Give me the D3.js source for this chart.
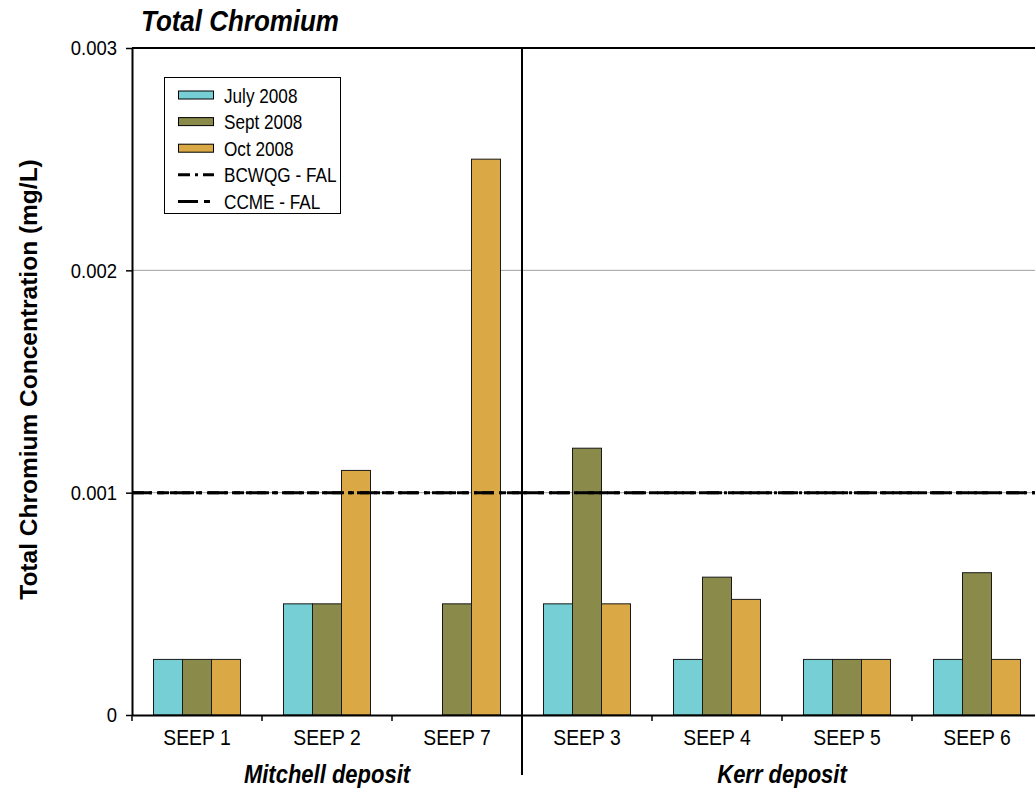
<!DOCTYPE html>
<html>
<head>
<meta charset="utf-8">
<script src="https://cdn.jsdelivr.net/npm/d3@7"></script>
<style>
  html, body { margin: 0; padding: 0; background: #ffffff; }
  svg { display: block; font-family: "Liberation Sans", Arial, sans-serif; }
</style>
</head>
<body>
<svg id="chart" width="1035" height="790"></svg>
<script>
// Sampling sites, grouped by deposit
const categories = ["SEEP 1", "SEEP 2", "SEEP 7", "SEEP 3", "SEEP 4", "SEEP 5", "SEEP 6"];
const depositNames = ["Mitchell deposit", "Kerr deposit"];
const depositSizes = [3, 4];

// Total chromium (mg/L) per sampling event; null = not sampled
const seriesNames = ["July 2008", "Sept 2008", "Oct 2008"];
const july2008 = [0.00025, 0.0005, null, 0.0005, 0.00025, 0.00025, 0.00025];
const sept2008 = [0.00025, 0.0005, 0.0005, 0.0012, 0.00062, 0.00025, 0.00064];
const oct2008  = [0.00025, 0.0011, 0.0025, 0.0005, 0.00052, 0.00025, 0.00025];
const seriesColors = ["#75cfd4", "#8a8a4a", "#daa845"];

// Water quality guidelines (freshwater aquatic life)
const guideNames = ["BCWQG - FAL", "CCME - FAL"];
const guideValues = [0.001, 0.001];
const guideDashes = ["12,5,3,5", "20,6,6,6"];

const yTicks = [0, 0.001, 0.002, 0.003];

const seriesValues = [july2008, sept2008, oct2008];
const SQ = 0.88; // horizontal squeeze applied to text

const svg = d3.select("#chart");
const plotLeft = 132, plotTop = 48, plotBottom = 715, plotRight = 1042;

const x = d3.scaleBand().domain(categories).range([plotLeft, plotRight]).padding(0);
const xs = d3.scaleBand().domain(seriesNames).range([0, x.bandwidth()])
  .paddingInner(0).paddingOuter(0.741);
const y = d3.scaleLinear().domain([0, 0.003]).range([plotBottom, plotTop]);

// gridlines
svg.append("g").selectAll("line")
  .data(yTicks.filter(d => d > 0 && d < 0.003))
  .join("line")
  .attr("x1", plotLeft).attr("x2", plotRight)
  .attr("y1", d => y(d)).attr("y2", d => y(d))
  .attr("stroke", "#a0a0a0").attr("stroke-width", 1);

// top frame line
svg.append("line")
  .attr("x1", plotLeft).attr("x2", plotRight)
  .attr("y1", y(0.003)).attr("y2", y(0.003))
  .attr("stroke", "#000").attr("stroke-width", 2);

// bars
const barData = [];
categories.forEach((c, i) => {
  seriesNames.forEach((s, j) => {
    const v = seriesValues[j][i];
    if (v != null) barData.push({ cat: c, series: s, value: v, color: seriesColors[j] });
  });
});
svg.append("g").selectAll("rect")
  .data(barData)
  .join("rect")
  .attr("x", d => x(d.cat) + xs(d.series))
  .attr("width", xs.bandwidth())
  .attr("y", d => y(d.value))
  .attr("height", d => y(0) - y(d.value))
  .attr("fill", d => d.color)
  .attr("stroke", "#1a1a1a")
  .attr("stroke-width", 1);

// guideline lines
svg.append("g").selectAll("line")
  .data(guideValues.map((v, i) => ({ v, dash: guideDashes[i] })))
  .join("line")
  .attr("x1", plotLeft).attr("x2", plotRight)
  .attr("y1", d => y(d.v)).attr("y2", d => y(d.v))
  .attr("stroke", "#000").attr("stroke-width", 3)
  .attr("stroke-dasharray", d => d.dash);

// y axis
const yAxis = svg.append("g")
  .attr("transform", `translate(${plotLeft},0)`)
  .call(d3.axisLeft(y).tickValues(yTicks)
    .tickFormat(d => d === 0 ? "0" : d3.format(".3f")(d))
    .tickSize(6).tickSizeOuter(0).tickPadding(9));
yAxis.select(".domain").attr("stroke", "#000").attr("stroke-width", 2);
yAxis.selectAll(".tick line").attr("stroke", "#000").attr("stroke-width", 1.5);
yAxis.selectAll(".tick text")
  .attr("font-size", 21).attr("font-family", "Liberation Sans, Arial, sans-serif")
  .attr("fill", "#000")
  .attr("x", -15 / SQ)
  .attr("transform", `scale(${SQ},1)`);

// x axis with category labels
const xAxis = svg.append("g")
  .attr("transform", `translate(0,${plotBottom})`)
  .call(d3.axisBottom(x).tickSize(0).tickSizeOuter(0).tickPadding(14));
xAxis.select(".domain").attr("stroke", "#000").attr("stroke-width", 2);
xAxis.selectAll(".tick text")
  .attr("font-size", 22).attr("font-family", "Liberation Sans, Arial, sans-serif")
  .attr("fill", "#000")
  .each(function () {
    const t = d3.select(this.parentNode).attr("transform");
    const tx = +t.match(/translate\(([-\d.]+)/)[1];
    d3.select(this.parentNode).attr("transform", null);
    d3.select(this).attr("x", tx / SQ).attr("transform", `scale(${SQ},1)`);
  });

// category boundary ticks
svg.append("g").selectAll("line")
  .data(categories)
  .join("line")
  .attr("x1", d => x(d)).attr("x2", d => x(d))
  .attr("y1", plotBottom).attr("y2", plotBottom + 6)
  .attr("stroke", "#000").attr("stroke-width", 1.5);

// deposit separators and labels
let start = 0;
depositNames.forEach((name, i) => {
  const a = x(categories[start]);
  const endCat = categories[start + depositSizes[i] - 1];
  const b = x(endCat) + x.bandwidth();
  svg.append("text")
    .attr("transform", `translate(${(a + b) / 2},783) scale(${SQ},1)`)
    .attr("text-anchor", "middle")
    .attr("font-size", 25).attr("font-weight", "bold").attr("font-style", "italic")
    .attr("fill", "#000")
    .text(name);
  if (i > 0) {
    svg.append("line")
      .attr("x1", a).attr("x2", a).attr("y1", plotTop).attr("y2", 775)
      .attr("stroke", "#000").attr("stroke-width", 2);
  }
  start += depositSizes[i];
});

// title
svg.append("text")
  .attr("transform", `translate(141,31) scale(${SQ},1)`)
  .attr("font-size", 29.5).attr("font-weight", "bold").attr("font-style", "italic")
  .attr("fill", "#000")
  .text("Total Chromium");

// y axis title
svg.append("text")
  .attr("transform", `translate(37,${(plotTop + plotBottom) / 2 - 2}) rotate(-90)`)
  .attr("text-anchor", "middle")
  .attr("font-size", 24.5).attr("font-weight", "bold")
  .attr("fill", "#000")
  .text("Total Chromium Concentration (mg/L)");

// legend
const lg = svg.append("g");
lg.append("rect")
  .attr("x", 164.5).attr("y", 77.5).attr("width", 176).attr("height", 136)
  .attr("fill", "#fff").attr("stroke", "#000").attr("stroke-width", 1);
const rowY = i => 95 + i * 26.6;
const legendItems = seriesNames.map((n, i) => ({ name: n, type: "bar", color: seriesColors[i] }))
  .concat(guideNames.map((n, i) => ({ name: n, type: "line", dash: guideDashes[i] })));
legendItems.forEach((d, i) => {
  const cy = rowY(i);
  if (d.type === "bar") {
    lg.append("rect")
      .attr("x", 178.5).attr("y", cy - 4).attr("width", 35).attr("height", 8)
      .attr("fill", d.color).attr("stroke", "#000").attr("stroke-width", 1);
  } else {
    lg.append("line")
      .attr("x1", 178).attr("x2", 214).attr("y1", cy).attr("y2", cy)
      .attr("stroke", "#000").attr("stroke-width", 3)
      .attr("stroke-dasharray", d.dash);
  }
  lg.append("text")
    .attr("transform", `translate(224,${cy + 7.5}) scale(${SQ},1)`)
    .attr("font-size", 19.5).attr("fill", "#000")
    .text(d.name);
});
</script>
</body>
</html>
